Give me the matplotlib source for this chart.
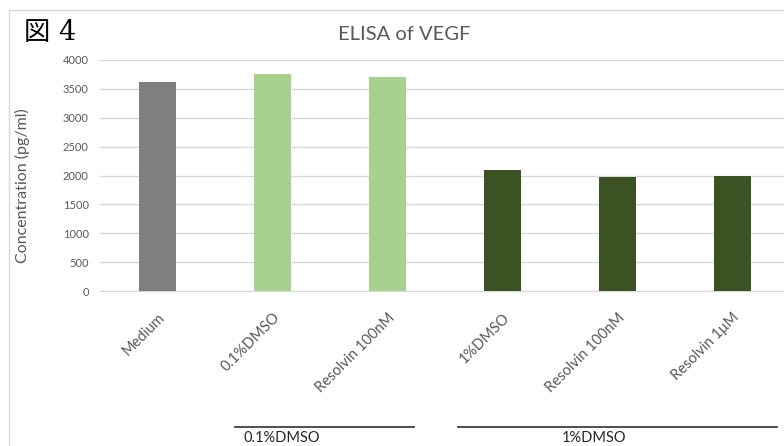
import numpy as np
import matplotlib.pyplot as plt
from matplotlib.patches import Rectangle
from matplotlib.lines import Line2D

# VEGF concentration (pg/ml) per condition
conditions = ['Medium', '0.1%DMSO', 'Resolvin 100nM', '1%DMSO', 'Resolvin 100nM', 'Resolvin 1μM']
vegf = [3615, 3760, 3705, 2090, 1970, 1985]
bar_colors = ['#7f7f7f', '#a9d18e', '#a9d18e', '#3b5323', '#3b5323', '#3b5323']
yticks = [0, 500, 1000, 1500, 2000, 2500, 3000, 3500, 4000]
groups = ['0.1%DMSO', '1%DMSO']

W, H = 784, 446
fig = plt.figure(figsize=(W / 100, H / 100), dpi=100)
plt.rcParams['font.family'] = ['Lato', 'DejaVu Sans']

# chart frame
fig.patches.append(Rectangle((9 / W, -0.1), 1.2, (H - 10) / H + 0.1, transform=fig.transFigure,
                             fill=False, edgecolor='#d9d9d9', linewidth=1))

ax = fig.add_axes([100 / W, (H - 291) / H, (W - 100) / W, 231 / H])
x = np.arange(len(conditions))
ax.bar(x, vegf, width=0.32, color=bar_colors, zorder=3)
ax.set_xlim(-0.5, 5.448)
ax.set_ylim(0, 4000)
ax.set_yticks(yticks)
ax.set_yticklabels([str(v) for v in yticks], fontsize=8, color='#595959')
ax.yaxis.grid(True, color='#d9d9d9', linewidth=1, zorder=0)
ax.tick_params(axis='both', length=0)
ax.tick_params(axis='y', pad=8)
for s in ['top', 'right', 'left']:
    ax.spines[s].set_visible(False)
ax.spines['bottom'].set_color('#d9d9d9')

ax.set_xticks(x)
ax.set_xticklabels(conditions, rotation=45, ha='right', va='top', rotation_mode='anchor',
                   fontsize=10.5, color='#595959')
ax.tick_params(axis='x', pad=14)

fig.text(22 / W, 1 - 186 / H, 'Concentration (pg/ml)', rotation=90, ha='center', va='center',
         fontsize=11.5, color='#595959')

fig.text(404 / W, 1 - 35 / H, 'ELISA of VEGF', ha='center', va='center', fontsize=14.5, color='#595959')
fig.text(24 / W, 1 - 33 / H, '図', ha='left', va='center', fontsize=19,
         family=['Noto Sans CJK JP'], color='black')
fig.text(58 / W, 1 - 33 / H, '4', ha='left', va='center', fontsize=19.5,
         family=['DejaVu Serif'], color='black')

# group brackets under the axis labels
fig.lines.append(Line2D([235 / W, 414 / W], [1 - 427 / H] * 2, transform=fig.transFigure,
                        color='#404040', linewidth=1.3))
fig.lines.append(Line2D([458 / W, 777 / W], [1 - 427 / H] * 2, transform=fig.transFigure,
                        color='#404040', linewidth=1.3))
fig.text(244 / W, 1 - 438 / H, groups[0], ha='left', va='center', fontsize=10.5, color='#262626')
fig.text(594 / W, 1 - 438 / H, groups[1], ha='center', va='center', fontsize=10.5, color='#262626')

fig.savefig('out.png', dpi=100)
